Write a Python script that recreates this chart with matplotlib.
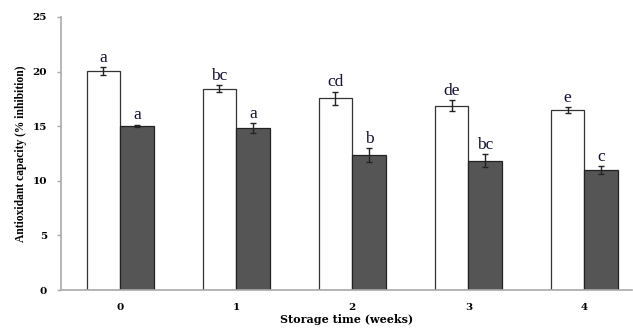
import matplotlib
matplotlib.use("Agg")
import matplotlib.pyplot as plt
import numpy as np

weeks = ["0", "1", "2", "3", "4"]
white_vals = [20.05, 18.43, 17.55, 16.88, 16.48]
white_err = [0.35, 0.3, 0.6, 0.5, 0.25]
dark_vals = [15.0, 14.8, 12.36, 11.84, 10.99]
dark_err = [0.1, 0.45, 0.6, 0.6, 0.35]
white_letters = ["a", "bc", "cd", "de", "e"]
dark_letters = ["a", "a", "b", "bc", "c"]

plt.rcParams['font.family'] = ['Liberation Serif', 'DejaVu Serif']

fig = plt.figure(figsize=(6.33, 3.34), dpi=100)
ax = fig.add_axes([61/633, 44/334, 571/633, 273/334])

x = np.arange(len(weeks))
w = 0.29
ax.bar(x - w/2, white_vals, w, color="white", edgecolor="#333333", linewidth=0.9,
       yerr=white_err, error_kw=dict(ecolor="#222222", elinewidth=1, capsize=2, capthick=1))
ax.bar(x + w/2, dark_vals, w, color="#555555", edgecolor="#222222", linewidth=0.9,
       yerr=dark_err, error_kw=dict(ecolor="#222222", elinewidth=1, capsize=2, capthick=1))

for i in range(len(weeks)):
    ax.text(x[i] - w/2, white_vals[i] + white_err[i] + 0.15, white_letters[i],
            ha="center", va="bottom", fontsize=12.5, color="#111133")
    ax.text(x[i] + w/2, dark_vals[i] + dark_err[i] + 0.15, dark_letters[i],
            ha="center", va="bottom", fontsize=12.5, color="#111133")

ax.set_xlim(-0.51, 4.41)
ax.set_ylim(0, 25)
ax.set_yticks([0, 5, 10, 15, 20, 25])
ax.set_xticks(x)
ax.set_xticklabels(weeks)
for lab in ax.get_xticklabels() + ax.get_yticklabels():
    lab.set_fontweight("bold")
    lab.set_fontsize(7.5)
    lab.set_family("DejaVu Serif")
ax.tick_params(axis="x", length=0, pad=9)
ax.tick_params(axis="y", length=3, width=1, color="#aaaaaa", direction="out", pad=7)
for s in ["top", "right"]:
    ax.spines[s].set_visible(False)
for s in ["left", "bottom"]:
    ax.spines[s].set_color("#aaaaaa")
    ax.spines[s].set_linewidth(1.2)

ax.set_xlabel("Storage time (weeks)", fontsize=8, fontweight="bold", labelpad=2,
              family="DejaVu Serif")
ax.set_ylabel("Antioxidant capacity (% inhibition)", fontsize=8.3, fontweight="bold", labelpad=4)

fig.savefig("out.png", dpi=100)
